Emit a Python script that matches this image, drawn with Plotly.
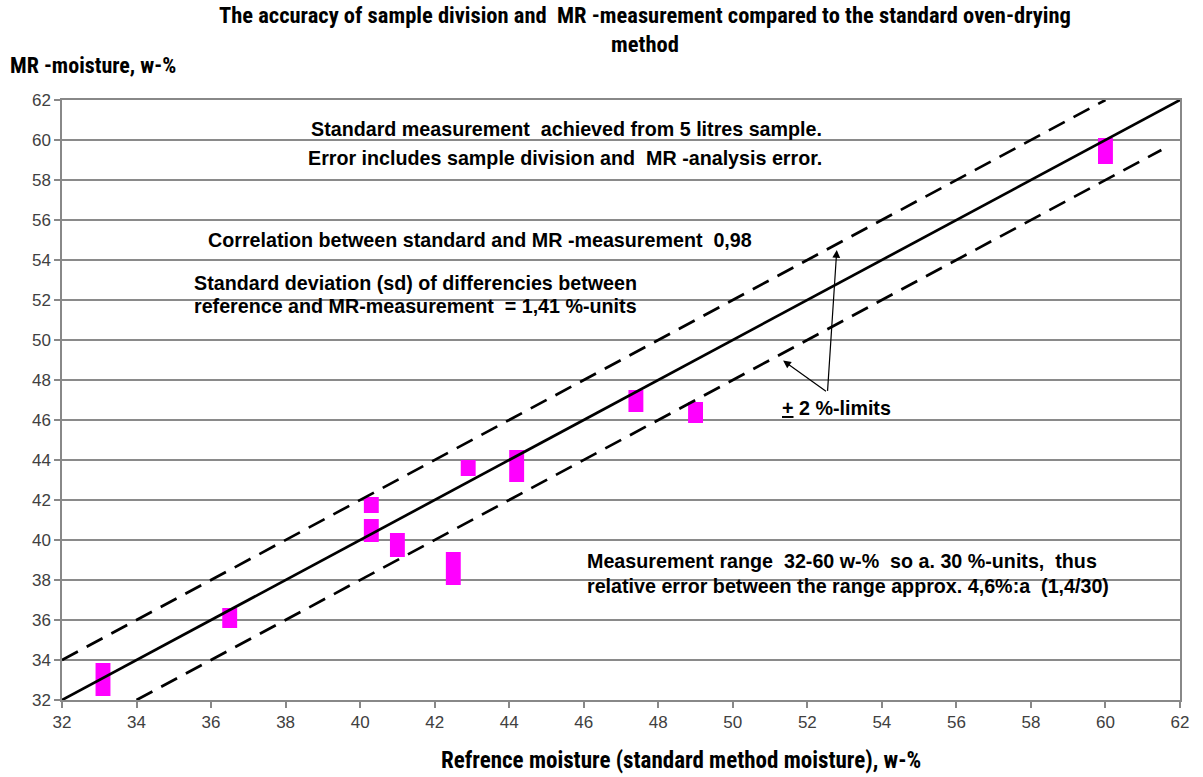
import plotly.graph_objects as go

# ---- data ----
ref_moisture = [33.1, 36.5, 40.3, 40.3, 41.0, 42.5, 42.9, 44.2, 47.4, 49.0, 60.0]
mr_low = [32.2, 35.6, 41.35, 39.9, 39.15, 37.75, 43.2, 42.9, 46.4, 45.85, 58.8]
mr_high = [33.85, 36.6, 42.15, 41.05, 40.35, 39.4, 44.0, 44.5, 47.5, 46.9, 60.1]

line_x = [32, 62]
line_y = [32, 62]
upper_x = [32, 60]
upper_y = [34, 62]
lower_x = [34, 61.5]
lower_y = [32, 59.5]

ticks = list(range(32, 63, 2))

TITLE_FONT = "Liberation Sans Narrow, Arial Narrow, Roboto Condensed, Liberation Sans, Arial"
BODY_FONT = "Liberation Sans, Arial, sans-serif"

fig = go.Figure()

fig.add_trace(go.Bar(
    x=ref_moisture,
    y=[h - l for h, l in zip(mr_high, mr_low)],
    base=mr_low,
    width=0.4,
    marker=dict(color="#FF00FF", line=dict(width=0)),
    showlegend=False,
    hoverinfo="skip",
))

fig.add_trace(go.Scatter(x=line_x, y=line_y, mode="lines",
                         line=dict(color="black", width=2.7), showlegend=False))
fig.add_trace(go.Scatter(x=upper_x, y=upper_y, mode="lines",
                         line=dict(color="black", width=2.7, dash="18px,10px"), showlegend=False))
fig.add_trace(go.Scatter(x=lower_x, y=lower_y, mode="lines",
                         line=dict(color="black", width=2.7, dash="18px,10px"), showlegend=False))

axis_common = dict(
    range=[32, 62], tickvals=ticks, ticks="outside", ticklen=6, tickcolor="#888888",
    tickwidth=1.5, linecolor="#888888", linewidth=1.5, mirror=True, showline=True,
    tickfont=dict(family=BODY_FONT, size=17, color="#404040"), zeroline=False,
)

fig.update_xaxes(**axis_common, showgrid=False)
fig.update_yaxes(**axis_common, showgrid=True, gridcolor="#8a8a8a", gridwidth=1.8)

ann_font = dict(family=BODY_FONT, size=19.7, color="black")
annotations = [
    dict(x=45.55, y=60.55, text="<b>Standard measurement  achieved from 5 litres sample.</b>", xanchor="center"),
    dict(x=45.5, y=59.1, text="<b>Error includes sample division and  MR -analysis error.</b>", xanchor="center"),
    dict(x=43.22, y=55.0, text="<b>Correlation between standard and MR -measurement  0,98</b>", xanchor="center"),
    dict(x=35.49, y=52.85, text="<b>Standard deviation (sd) of differencies between</b>", xanchor="left"),
    dict(x=35.49, y=51.7, text="<b>reference and MR-measurement  = 1,41 %-units</b>", xanchor="left"),
    dict(x=52.79, y=46.6, text="<b><u>+</u> 2 %-limits</b>", xanchor="center"),
    dict(x=52.94, y=38.95, text="<b>Measurement range  32-60 w-%  so a. 30 %-units,  thus</b>", xanchor="center"),
    dict(x=53.1, y=37.7, text="<b>relative error between the range approx. 4,6%:a  (1,4/30)</b>", xanchor="center"),
]
for a in annotations:
    fig.add_annotation(xref="x", yref="y", showarrow=False, yanchor="middle", font=ann_font, **a)

# arrows
for hx, hy in [(52.79, 54.5), (51.35, 48.97)]:
    fig.add_annotation(x=hx, y=hy, ax=52.54, ay=47.38, xref="x", yref="y", axref="x", ayref="y",
                       text="", showarrow=True, arrowhead=2, arrowsize=1.3, arrowwidth=1.2,
                       arrowcolor="black")

# chart title (two lines, one text)
fig.add_annotation(xref="paper", yref="paper", x=0.5215, y=1.117, xanchor="center", yanchor="middle",
                   text="<b>The accuracy of sample division and  MR -measurement compared to the standard oven-drying"
                        "<br>method</b>",
                   showarrow=False, font=dict(family=TITLE_FONT, size=22.5, color="black"))

# axis titles
fig.add_annotation(xref="paper", yref="paper", x=-0.0483, y=1.0567, xanchor="left", yanchor="middle",
                   text="<b>MR -moisture, w-%</b>", showarrow=False,
                   font=dict(family=TITLE_FONT, size=22, color="black"))
fig.add_annotation(xref="paper", yref="paper", x=0.554, y=-0.1, xanchor="center", yanchor="middle",
                   text="<b>Refrence moisture (standard method moisture), w-%</b>", showarrow=False,
                   font=dict(family=TITLE_FONT, size=23, color="black"))

fig.update_layout(
    width=1203, height=777,
    margin=dict(l=62, r=23, t=100, b=77),
    paper_bgcolor="white", plot_bgcolor="white",
    barmode="overlay",
    showlegend=False,
)

fig.write_html("out.html")
